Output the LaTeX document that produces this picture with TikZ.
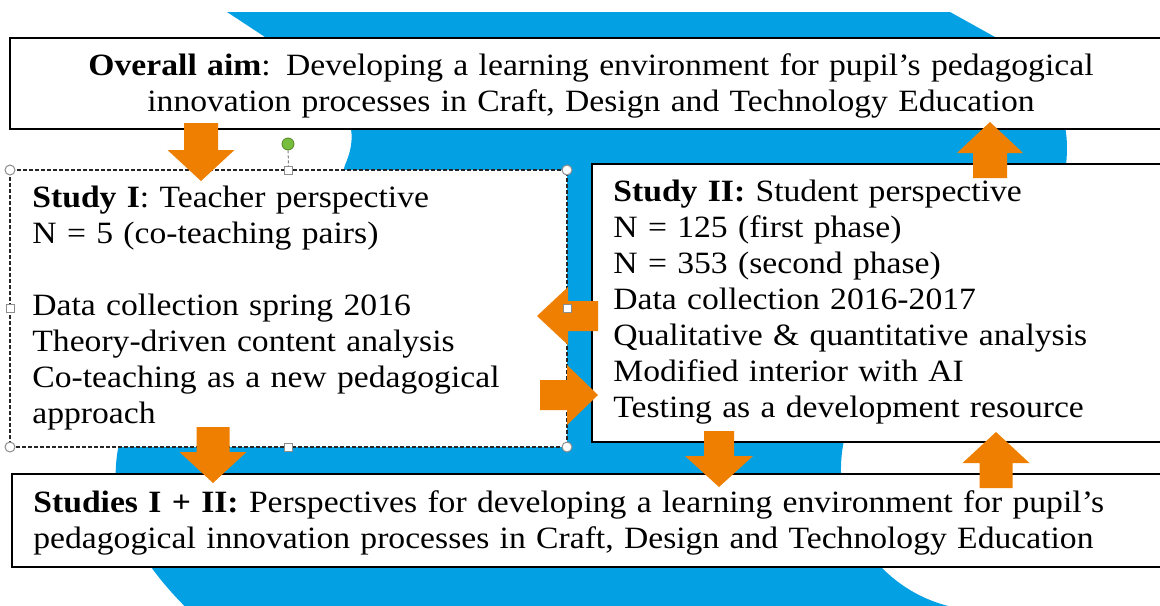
\documentclass[tikz,border=0pt]{standalone}
\usepackage{fontspec}
\setmainfont{Liberation Serif}[FakeStretch=1.085]
\usetikzlibrary{calc}
\definecolor{swoosh}{RGB}{3,161,228}
\definecolor{arroworange}{RGB}{238,127,0}
\definecolor{handlegreen}{RGB}{120,190,60}
\tikzstyle{box}=[draw=black, line width=1.1pt, fill=white, inner sep=0pt, outer sep=0pt]
\tikzstyle{selbox}=[draw=black!85, line width=0.6pt, dash pattern=on 2pt off 1pt, fill=white, inner sep=0pt, outer sep=0pt]
\tikzstyle{boxtext}=[inner sep=0pt, align=left, font=\fontsize{15.5}{18}\selectfont]
\tikzstyle{cornerhandle}=[circle, draw=black!45, fill=white, line width=0.5pt, minimum size=5pt, inner sep=0pt]
\tikzstyle{sidehandle}=[rectangle, draw=black!45, fill=white, line width=0.5pt, minimum size=4pt, inner sep=0pt]
\newcommand{\blockarrow}[4]{
  % #1 tail, #2 tip, #3 half shaft, #4 half head
  \coordinate (headbase) at ($(#2)!15.5pt!(#1)$);
  \fill[arroworange] ($(#1)!#3!90:(#2)$) -- ($(headbase)!#3!90:(#2)$) -- ($(headbase)!#4!90:(#2)$)
    -- (#2) -- ($(headbase)!#4!-90:(#2)$) -- ($(headbase)!#3!-90:(#2)$) -- ($(#1)!#3!-90:(#2)$) -- cycle;
}

\begin{document}
\begin{tikzpicture}[x=0.5pt,y=-0.5pt]
  \useasboundingbox (0,0) rectangle (1160,605);
  \clip (0,0) rectangle (1160,605);

  % background swoosh
  \fill[swoosh] (227,12) -- (950,12) -- (995,37) .. controls (1050,75) and (1072,110) .. (1066,165)
    .. controls (1062,260) and (925,317) .. (874,378) .. controls (842,417) and (832,470) .. (849.5,517)
    .. controls (867,564) and (908,599) .. (957.5,608) -- (975,625) -- (205,625) -- (199,620)
    .. controls (150,575) and (112,520) .. (116,465) .. controls (125,330) and (320,260) .. (345,165)
    .. controls (365,120) and (340,90) .. (265,37) -- cycle;

  % boxes
  \node[box, anchor=north west, minimum width=580pt, minimum height=45.5pt] (aim) at (10,38) {};
  \node[selbox, anchor=north west, minimum width=278.5pt, minimum height=138.5pt] (study1) at (10,170) {};
  \node[box, anchor=north west, minimum width=289pt, minimum height=139pt] (study2) at (592,164) {};
  \node[box, anchor=north west, minimum width=579pt, minimum height=46.5pt] (both) at (12,474) {};

  % arrows
  \coordinate (a1s) at (201,123); \coordinate (a1e) at (201,181);
  \coordinate (a2s) at (990,178); \coordinate (a2e) at (990,122);
  \coordinate (a3s) at (598,316); \coordinate (a3e) at (537,316);
  \coordinate (a4s) at (540,395); \coordinate (a4e) at (598,395);
  \coordinate (a5s) at (213,427); \coordinate (a5e) at (213,483);
  \coordinate (a6s) at (719,431); \coordinate (a6e) at (719,487);
  \coordinate (a7s) at (996,488); \coordinate (a7e) at (996,432);
  \blockarrow{a1s}{a1e}{8.5pt}{16.75pt}
  \blockarrow{a2s}{a2e}{8.5pt}{16.5pt}
  \blockarrow{a3s}{a3e}{7.5pt}{14.5pt}
  \blockarrow{a4s}{a4e}{7.5pt}{15pt}
  \blockarrow{a5s}{a5e}{8.25pt}{16.75pt}
  \blockarrow{a6s}{a6e}{7.5pt}{17pt}
  \blockarrow{a7s}{a7e}{8.25pt}{16.75pt}

  % texts
  \node[boxtext, anchor=base, align=center, text width=570pt] (aimtext) at (591,75)
    {\textbf{Overall aim}: Developing a learning environment for pupil’s pedagogical\\
     innovation processes in Craft, Design and Technology Education};
  \node[boxtext, anchor=base west, text width=270pt] (study1text) at (32,207)
    {\textbf{Study I}: Teacher perspective\\
     N = 5 (co-teaching pairs)\\[18pt]
     Data collection spring 2016\\
     Theory-driven content analysis\\
     Co-teaching as a new pedagogical\\
     approach};
  \node[boxtext, anchor=base west, text width=280pt] (study2text) at (613,201)
    {\textbf{Study II:} Student perspective\\
     N = 125 (first phase)\\
     N = 353 (second phase)\\
     Data collection 2016-2017\\
     Qualitative \& quantitative analysis\\
     Modified interior with AI\\
     Testing as a development resource};
  \node[boxtext, anchor=base west, text width=570pt] (bothtext) at (33,512)
    {\textbf{Studies I + II:} Perspectives for developing a learning environment for pupil’s\\
     pedagogical innovation processes in Craft, Design and Technology Education};

  % selection handles
  \node[circle, draw=handlegreen!70!black, fill=handlegreen, minimum size=6pt, inner sep=0pt] (rot) at (288,144) {};
  \draw[black!50, line width=0.5pt, dash pattern=on 1.5pt off 1pt] (rot) -- (study1.north);
  \foreach \a in {north west, north east, south west, south east}
    \node[cornerhandle] at (study1.\a) {};
  \foreach \a in {north, south, west, east}
    \node[sidehandle] at (study1.\a) {};
\end{tikzpicture}
\end{document}
